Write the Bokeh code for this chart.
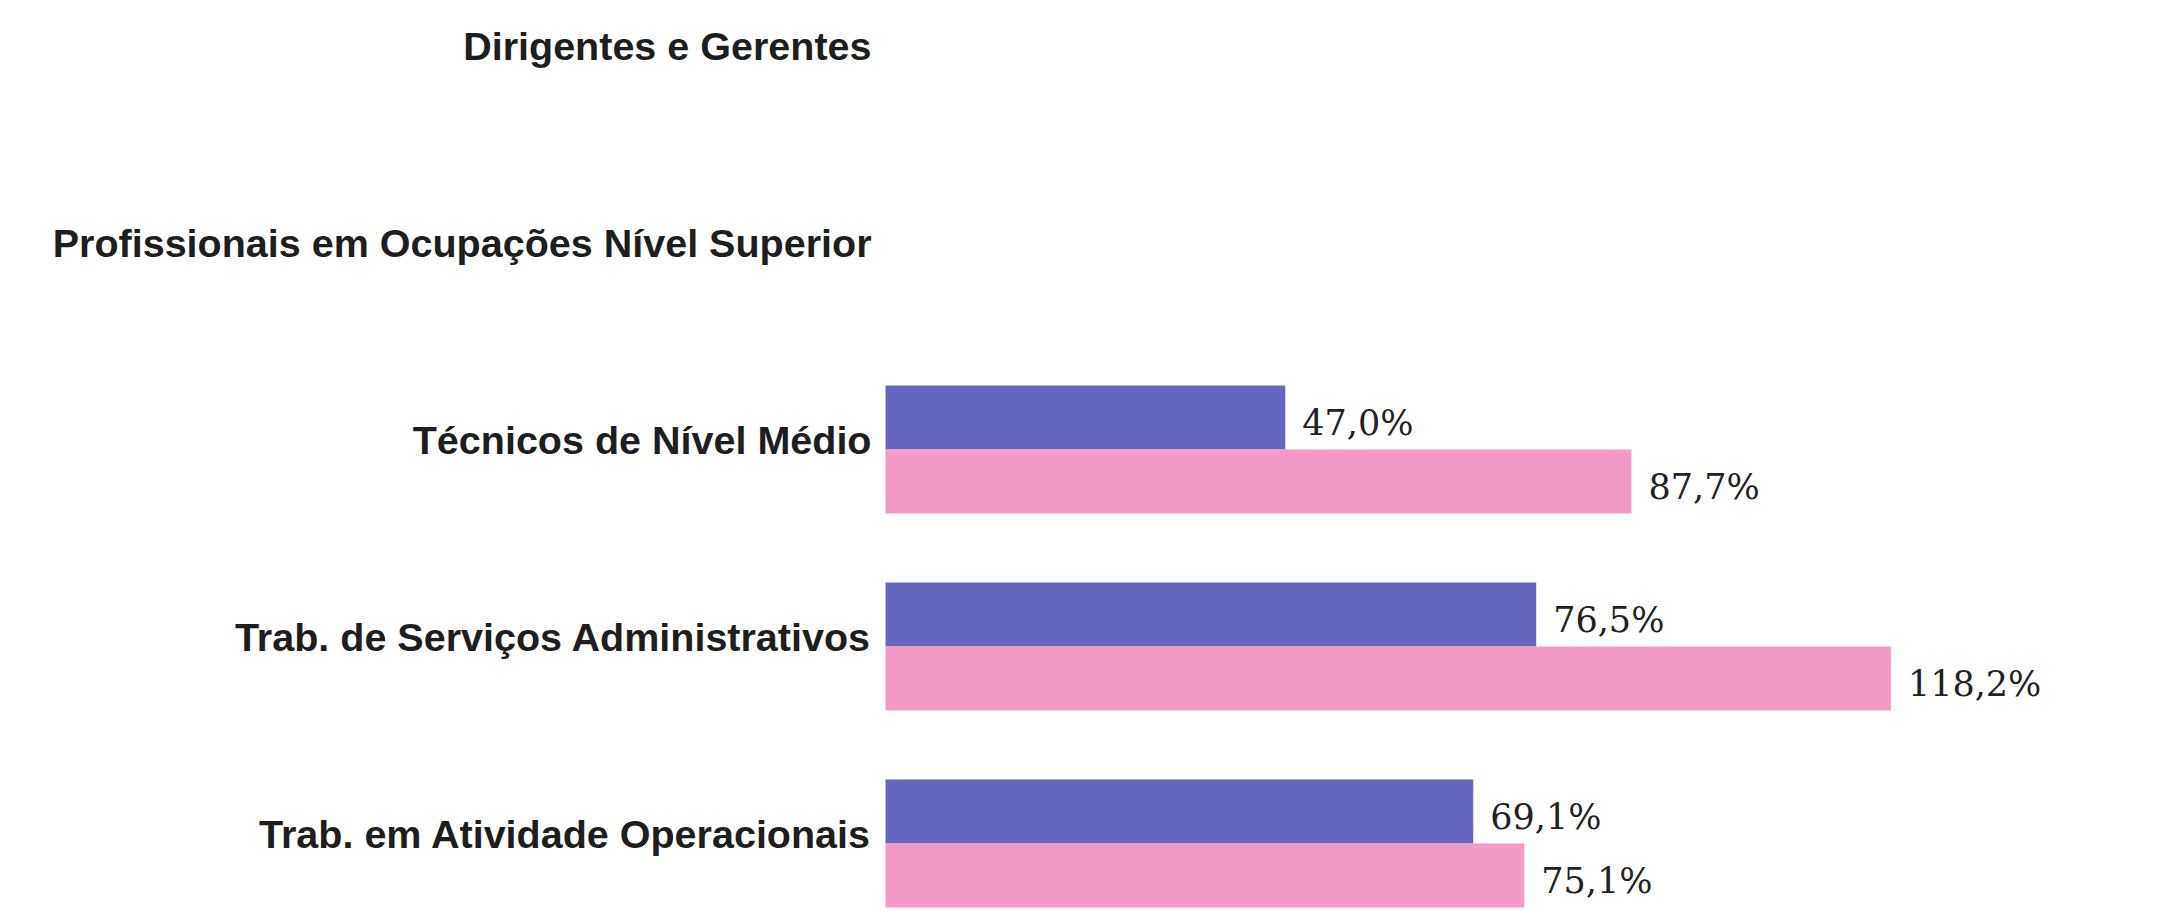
from bokeh.plotting import figure
from bokeh.models import Range1d, ColumnDataSource
from bokeh.embed import file_html
from bokeh.resources import INLINE
from bokeh.core.properties import value

categories = [
    "Dirigentes e Gerentes",
    "Profissionais em Ocupações Nível Superior",
    "Técnicos de Nível Médio",
    "Trab. de Serviços Administrativos",
    "Trab. em Atividade Operacionais",
]
# first series (blue) and second series (pink); None = no bar visible
serie_azul = [None, None, 47.0, 76.5, 69.1]
serie_rosa = [None, None, 87.7, 118.2, 75.1]
rotulos_azul = ["", "", "47,0%", "76,5%", "69,1%"]
rotulos_rosa = ["", "", "87,7%", "118,2%", "75,1%"]

W, H = 2160, 911
left = 885
px_per = 8.506
x_start = -left / px_per
x_end = (W - left) / px_per
unit = 197.0
top_off = 55.0
y_top = -top_off / unit
y_bot = (H - top_off) / unit
bar_h = 64.0 / unit

p = figure(width=W, height=H, output_backend="svg", toolbar_location=None,
           x_range=Range1d(x_start, x_end), y_range=Range1d(y_bot, y_top),
           min_border_left=0, min_border_right=0, min_border_top=0, min_border_bottom=0)
p.outline_line_color = None
p.xgrid.visible = False
p.ygrid.visible = False
p.xaxis.visible = False
p.yaxis.visible = False
p.background_fill_color = "white"
p.border_fill_color = "white"

def make_src(vals, labels, shift):
    ys, xs, ls = [], [], []
    for i, (v, l) in enumerate(zip(vals, labels)):
        if v is None:
            continue
        ys.append(i + shift)
        xs.append(v)
        ls.append(l)
    return ColumnDataSource(dict(y=ys, x=xs, lab=ls))

src_a = make_src(serie_azul, rotulos_azul, -bar_h / 2)
src_r = make_src(serie_rosa, rotulos_rosa, bar_h / 2)

p.hbar(y="y", right="x", left=0, height=bar_h, source=src_a,
       fill_color="#6668c0", line_color=None)
p.hbar(y="y", right="x", left=0, height=bar_h, source=src_r,
       fill_color="#f49ac6", line_color=None)

for src in (src_a, src_r):
    p.text(x="x", y="y", text="lab", source=src, x_offset=17, y_offset=5,
           text_font=value("DejaVu Serif"), text_font_size="35px",
           text_color="#222222", text_baseline="middle", text_align="left")

cat_src = ColumnDataSource(dict(y=list(range(len(categories))),
                                x=[0] * len(categories), lab=categories))
p.text(x="x", y="y", text="lab", source=cat_src, x_offset=-14, y_offset=-10,
       text_font=value("Liberation Sans"), text_font_style="bold",
       text_font_size="39.5px", text_color="#1e1e1e",
       text_baseline="middle", text_align="right")

open("out.html", "w").write(file_html(p, INLINE))
